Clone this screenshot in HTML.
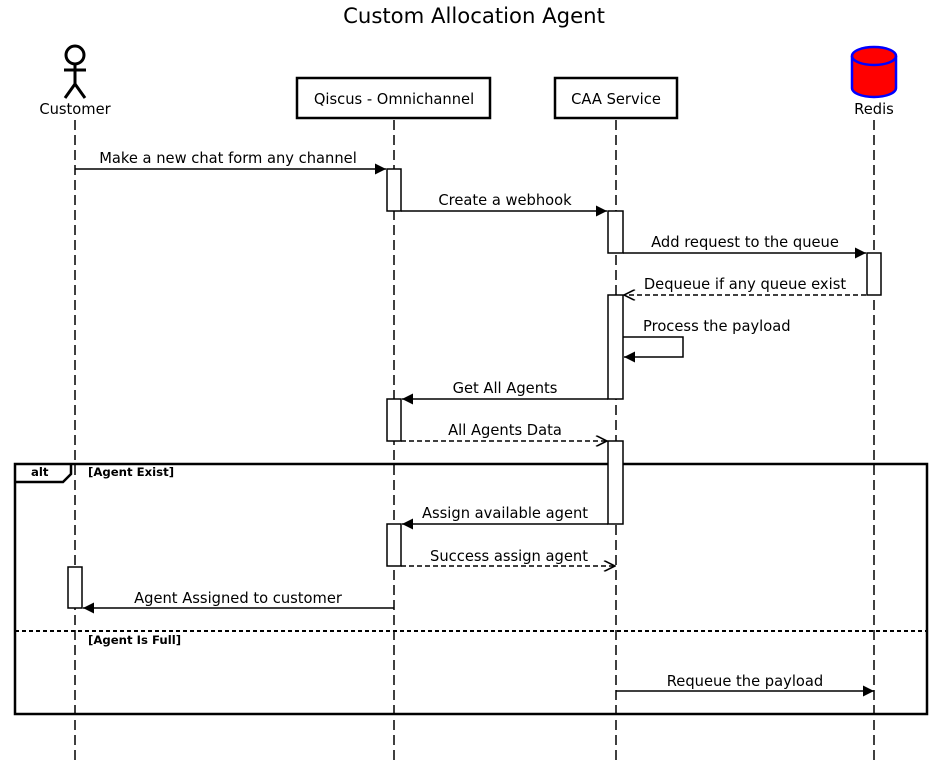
<!DOCTYPE html>
<html><head><meta charset="utf-8"><style>html,body{margin:0;padding:0;background:#fff}svg{display:block}text{font-family:"DejaVu Sans","Liberation Sans",sans-serif}</style></head><body>
<svg width="949" height="767" viewBox="0 0 949 767" xmlns="http://www.w3.org/2000/svg">
<defs>
<marker id="f" viewBox="0 0 10 10" refX="10" refY="5" markerWidth="13" markerHeight="11" markerUnits="userSpaceOnUse" orient="auto"><path d="M0,0L10,5L0,10z" fill="#000"/></marker>
<marker id="o" viewBox="0 0 10 10" refX="10" refY="5" markerWidth="13" markerHeight="11" markerUnits="userSpaceOnUse" orient="auto"><path d="M0,0L10,5L0,10" fill="none" stroke="#000" stroke-width="1.4"/></marker>
</defs>
<text x="474" y="23" font-size="21.2" text-anchor="middle">Custom Allocation Agent</text>
<g stroke="#000" stroke-width="1.5" stroke-dasharray="10,5">
<line x1="75" y1="120" x2="75" y2="762"/><line x1="394" y1="120" x2="394" y2="762"/><line x1="616" y1="120" x2="616" y2="762"/><line x1="874" y1="120" x2="874" y2="762"/>
</g>
<g stroke="#000" stroke-width="3" fill="none"><circle cx="75" cy="55" r="9"/><line x1="75" y1="64" x2="75" y2="86"/><line x1="64" y1="70" x2="86" y2="70"/><path d="M65,98L75,84L85,98"/></g>
<g font-size="14.7" text-anchor="middle">
<text x="75" y="114">Customer</text>
<rect x="297" y="78" width="193" height="40" fill="#fff" stroke="#000" stroke-width="2.5"/><text x="394" y="104">Qiscus - Omnichannel</text>
<rect x="555" y="78" width="122" height="40" fill="#fff" stroke="#000" stroke-width="2.5"/><text x="616" y="104">CAA Service</text>
<text x="874" y="114">Redis</text></g>
<path d="M852,56L852,88A22,9 0 0 0 896,88L896,56" fill="red" stroke="blue" stroke-width="2.5"/>
<ellipse cx="874" cy="56" rx="22" ry="9" fill="red" stroke="blue" stroke-width="2.5"/>
<rect x="15" y="464" width="912" height="250" fill="none" stroke="#000" stroke-width="2.5"/>
<path d="M15,482L63,482L71,474L71,464" fill="none" stroke="#000" stroke-width="2.5"/>
<line x1="15" y1="631" x2="927" y2="631" stroke="#000" stroke-width="2" stroke-dasharray="4,3"/>
<g font-size="11.7" font-weight="bold"><text x="31" y="476">alt</text><text x="88" y="476">[Agent Exist]</text><text x="88" y="644">[Agent Is Full]</text></g>
<g fill="#fff" stroke="#000" stroke-width="1.5">
<rect x="387" y="169" width="14" height="42"/><rect x="608" y="211" width="15" height="42"/><rect x="867" y="253" width="14" height="42"/><rect x="608" y="295" width="15" height="104"/><rect x="387" y="399" width="14" height="42"/><rect x="608" y="441" width="15" height="83"/><rect x="387" y="524" width="14" height="42"/><rect x="68" y="567" width="14" height="41"/>
</g>
<g stroke="#000" stroke-width="1.5" fill="none">
<line x1="75" y1="169" x2="386" y2="169" marker-end="url(#f)"/>
<line x1="401" y1="211" x2="607" y2="211" marker-end="url(#f)"/>
<line x1="623" y1="253" x2="866" y2="253" marker-end="url(#f)"/>
<line x1="866" y1="295" x2="624" y2="295" stroke-dasharray="5,3" marker-end="url(#o)"/>
<path d="M623,337L683,337L683,357L624,357" marker-end="url(#f)"/>
<line x1="608" y1="399" x2="402" y2="399" marker-end="url(#f)"/>
<line x1="401" y1="441" x2="607" y2="441" stroke-dasharray="5,3" marker-end="url(#o)"/>
<line x1="608" y1="524" x2="402" y2="524" marker-end="url(#f)"/>
<line x1="401" y1="566" x2="615" y2="566" stroke-dasharray="5,3" marker-end="url(#o)"/>
<line x1="394" y1="608" x2="83" y2="608" marker-end="url(#f)"/>
<line x1="616" y1="691" x2="874" y2="691" marker-end="url(#f)"/>
</g>
<g font-size="14.7" text-anchor="middle">
<text x="228" y="163">Make a new chat form any channel</text>
<text x="505" y="205">Create a webhook</text>
<text x="745" y="247">Add request to the queue</text>
<text x="745" y="289">Dequeue if any queue exist</text>
<text x="643" y="331" text-anchor="start">Process the payload</text>
<text x="505" y="393">Get All Agents</text>
<text x="505" y="435">All Agents Data</text>
<text x="505" y="518">Assign available agent</text>
<text x="509" y="561">Success assign agent</text>
<text x="238" y="603">Agent Assigned to customer</text>
<text x="745" y="686">Requeue the payload</text>
</g>
</svg>
</body></html>
